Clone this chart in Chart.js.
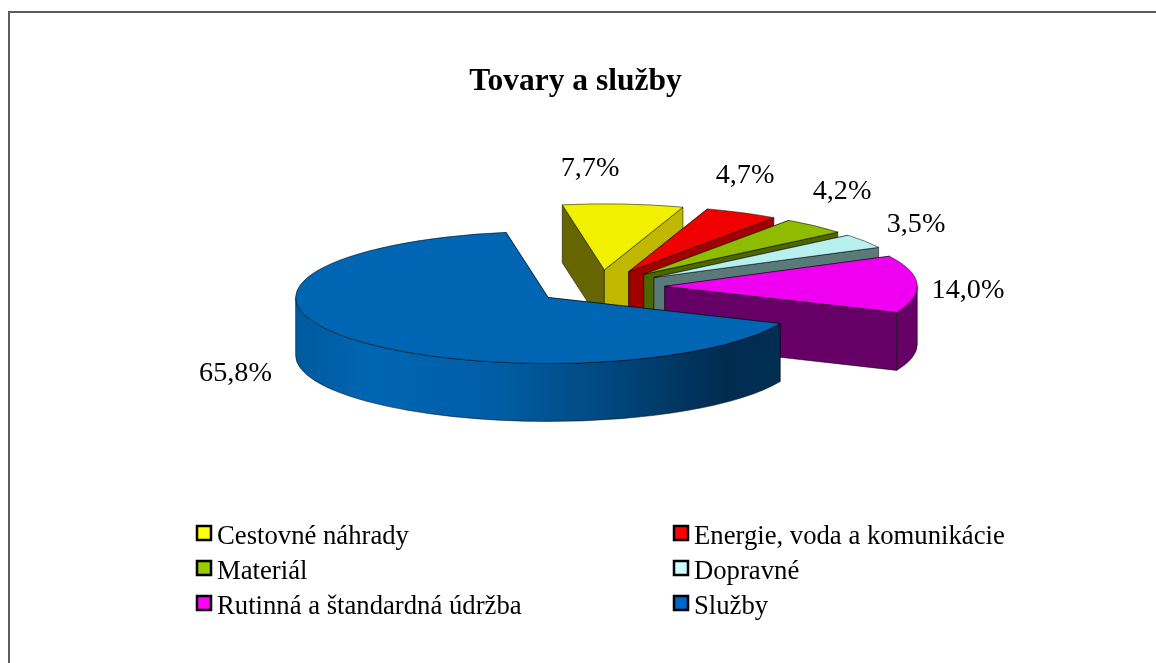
<!DOCTYPE html>
<html>
<head>
<meta charset="utf-8">
<style>
html,body{margin:0;padding:0;background:#fff;overflow:hidden}
#frame{position:absolute;left:8px;top:11px;right:0;bottom:0;border-top:2px solid #5c5c5c;border-left:2px solid #5c5c5c;box-sizing:border-box}
canvas{position:absolute;left:0;top:0;filter:blur(0.4px)}
</style>
<script src="https://cdn.jsdelivr.net/npm/chart.js@4"></script>
</head>
<body>
<div id="frame"></div>
<canvas id="c" width="1151" height="663"></canvas>
<script>
const titleText = "Tovary a služby";
const categories = ["Cestovné náhrady","Energie, voda a komunikácie","Materiál","Dopravné","Rutinná a štandardná údržba","Služby"];
const values = [7.7,4.7,4.2,3.5,14.0,65.8];
const topColors = ["#f0f000","#f00000","#8fbc00","#b8f0f0","#f000f0","#0066b3"];
const legendColors = ["#ffff00","#ff0000","#99cc00","#ccffff","#ff00ff","#0066cc"];
const wallStartColors = ["#666600","#660000","#3d5200","#5a7a7a","#660066","#003055"];
const wallEndColors = ["#c0b800","#a00000","#4d6600","#5a7a7a","#660066","#0066b3"];
const labelAnchors = [[590,169],[745,176],[842,192],[916,225],[968,291],[235.5,374]];
const SERIF = "'Liberation Serif','Times New Roman',serif";

const PIE_RX = 252.5, PIE_RY = 66, PIE_DEPTH = 58, PIE_SHIFT_X = 24;

const pie3d = {
  id:'pie3d',
  beforeDatasetsDraw(chart){
    const ctx = chart.ctx;
    const arcs = chart.getDatasetMeta(0).data;
    ctx.save();
    ctx.lineWidth = 1;
    ctx.lineJoin = 'round';
    ctx.strokeStyle = 'rgba(0,0,0,0.5)';
    arcs.forEach((arc,i)=>{
      const {x,y,startAngle:a0,endAngle:a1,outerRadius:R} = arc;
      const sx = PIE_RX/R, sy = PIE_RY/R;
      const mid = (a0+a1)/2, ex = arc.options.offset/4;
      const ax = x + PIE_SHIFT_X + Math.cos(mid)*ex*sx;
      const ay = y + Math.sin(mid)*ex*sy;
      const wall = (a,color)=>{
        const px = ax+Math.cos(a)*PIE_RX, py = ay+Math.sin(a)*PIE_RY;
        ctx.beginPath();
        ctx.moveTo(ax,ay);ctx.lineTo(px,py);ctx.lineTo(px,py+PIE_DEPTH);ctx.lineTo(ax,ay+PIE_DEPTH);ctx.closePath();
        ctx.fillStyle=color;ctx.fill();ctx.stroke();
      };
      wall(a0,wallStartColors[i]);
      wall(a1,wallEndColors[i]);
      const lo = Math.max(a0,0), hi = Math.min(a1,Math.PI);
      if(hi>lo){
        let fill = wallStartColors[i];
        if(i===arcs.length-1){
          const g = ctx.createLinearGradient(ax-PIE_RX,0,ax+PIE_RX,0);
          g.addColorStop(0,"#005a9e");g.addColorStop(0.15,"#0066b3");g.addColorStop(0.4,"#005da5");
          g.addColorStop(0.6,"#004a82");g.addColorStop(0.85,"#002c50");g.addColorStop(1,"#003055");
          fill = g;
        }
        ctx.beginPath();
        ctx.ellipse(ax,ay,PIE_RX,PIE_RY,0,lo,hi);
        ctx.ellipse(ax,ay+PIE_DEPTH,PIE_RX,PIE_RY,0,hi,lo,true);
        ctx.closePath();
        ctx.fillStyle=fill;ctx.fill();ctx.stroke();
      }
      ctx.beginPath();
      ctx.moveTo(ax,ay);
      ctx.ellipse(ax,ay,PIE_RX,PIE_RY,0,a0,a1);
      ctx.closePath();
      ctx.fillStyle=topColors[i];ctx.fill();ctx.stroke();
    });
    ctx.restore();
    return false;
  },
  afterDraw(chart){
    const ctx = chart.ctx;
    ctx.save();
    ctx.fillStyle='#000';
    ctx.textBaseline='middle';
    ctx.textAlign='center';
    ctx.font="28.2px "+SERIF;
    values.forEach((v,i)=>{
      ctx.fillText(v.toFixed(1).replace('.',',')+'%',labelAnchors[i][0],labelAnchors[i][1]);
    });
    ctx.textAlign='left';
    ctx.font="26.7px "+SERIF;
    const colX=[197,674], rowY=[533,568,603];
    categories.forEach((c,i)=>{
      const cx=colX[i%2], cy=rowY[Math.floor(i/2)];
      ctx.fillStyle=legendColors[i];
      ctx.fillRect(cx,cy-7,14,14);
      ctx.strokeStyle='#000';ctx.lineWidth=2.5;
      ctx.strokeRect(cx,cy-7,14,14);
      ctx.fillStyle='#000';
      ctx.fillText(c,cx+20,cy+3.5);
    });
    ctx.restore();
  }
};

new Chart(document.getElementById('c'),{
  type:'pie',
  data:{labels:categories,datasets:[{data:values,backgroundColor:topColors,borderWidth:0,offset:116}]},
  options:{
    responsive:false,animation:false,rotation:-9.6,
    layout:{padding:{bottom:206}},
    events:[],
    plugins:{
      legend:{display:false},tooltip:{enabled:false},
      title:{display:true,text:titleText,color:'#000',font:{family:SERIF,size:31.5,weight:'bold',lineHeight:1.2},padding:{top:63,bottom:16}}
    }
  },
  plugins:[pie3d]
});
</script>
</body>
</html>
